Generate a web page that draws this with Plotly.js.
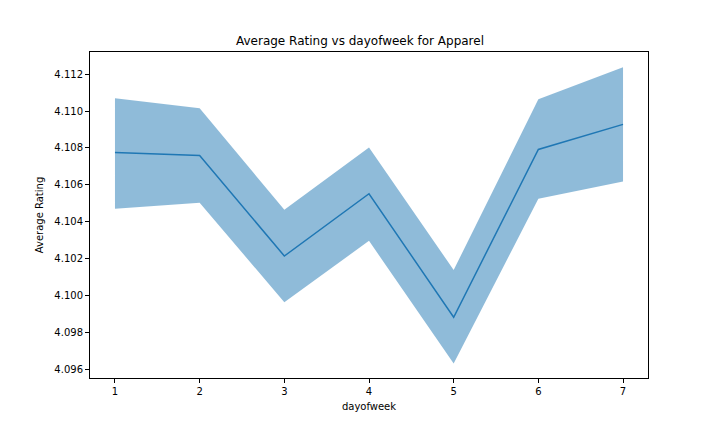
<!DOCTYPE html>
<html>
<head>
<script src="https://cdn.plot.ly/plotly-3.0.1.min.js"></script>
<style>body{margin:0}</style>
</head>
<body>
<div id="plot" style="width:720px;height:432px"></div>
<script>
const days = [1, 2, 3, 4, 5, 6, 7];
const meanRating = [4.10776, 4.10759, 4.10215, 4.10552, 4.09883, 4.10792, 4.10928];
const upperRating = [4.11069, 4.11015, 4.10465, 4.10803, 4.10139, 4.11064, 4.11238];
const lowerRating = [4.10471, 4.10503, 4.09965, 4.10297, 4.09633, 4.10525, 4.10618];

const data = [
  { x: days, y: lowerRating, mode: 'lines', line: { width: 0 }, hoverinfo: 'skip', showlegend: false },
  { x: days, y: upperRating, mode: 'lines', line: { width: 0 }, fill: 'tonexty',
    fillcolor: 'rgba(31,119,180,0.5)', showlegend: false },
  { x: days, y: meanRating, mode: 'lines', line: { color: '#1f77b4', width: 1.5 }, showlegend: false },
];

const axisStyle = {
  showgrid: false, zeroline: false, showline: true, mirror: true, linecolor: 'black', linewidth: 1,
  ticks: 'outside', ticklen: 4, tickcolor: 'black', tickfont: { size: 10 },
};

const layout = {
  width: 720, height: 432,
  margin: { l: 90, r: 72, t: 52, b: 54 },
  font: { family: 'DejaVu Sans', color: 'black' },
  paper_bgcolor: 'white', plot_bgcolor: 'white',
  title: { text: 'Average Rating vs dayofweek for Apparel', font: { size: 12 }, x: 0.5, xanchor: 'center', y: 0.915 },
  xaxis: Object.assign({}, axisStyle, { range: [0.705, 7.295], dtick: 1, title: { text: 'dayofweek', font: { size: 10 }, standoff: 6 } }),
  yaxis: Object.assign({}, axisStyle, { range: [4.09554, 4.1132], dtick: 0.002, tickformat: '.3f', title: { text: 'Average Rating', font: { size: 10 }, standoff: 8 } }),
};

Plotly.newPlot('plot', data, layout, { displayModeBar: false });
</script>
</body>
</html>
